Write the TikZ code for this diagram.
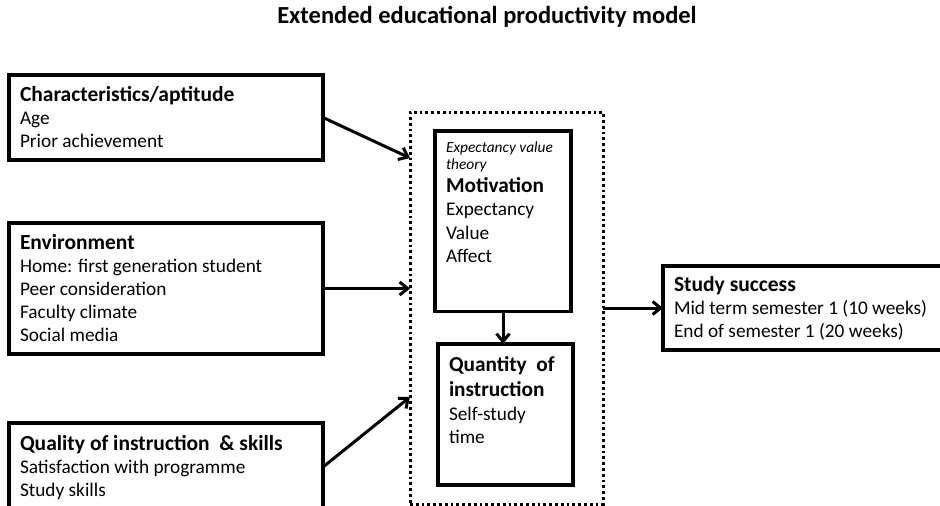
\documentclass[tikz,border=0pt]{standalone}
\usepackage{fontspec}
\setmainfont{Carlito}
\usetikzlibrary{arrows.meta}
\tikzset{
  box/.style={draw, line width=3.3pt, anchor=north west, outer sep=0pt,
    inner xsep=11pt, inner ysep=6pt, align=flush left,
    font=\fontsize{19.3}{23}\selectfont},
  group/.style={draw, dash pattern=on 2.8pt off 3pt, line width=3pt,
    anchor=north west, outer sep=0pt, inner sep=0pt},
  link/.style={-{Straight Barb[length=8pt,width=13pt]}, line width=3pt},
}
\newcommand{\hd}[1]{{\fontsize{21.5}{23}\selectfont\bfseries #1}}
\begin{document}
\begin{tikzpicture}[x=1pt,y=-1pt]
        \useasboundingbox (0,0) rectangle (940,506);
        % title
        \node (title) at (487,17) {\fontsize{24.5}{28}\selectfont\bfseries Extended educational productivity model};
        % factors on the left
        \node[box, text width=292pt, minimum height=85pt] (char) at (9,75)
          {\hd{Characteristics/aptitude}\\ Age\\ Prior achievement};
        \node[box, text width=292pt, minimum height=131pt] (env) at (9,223)
          {\hd{Environment}\\ Home: first generation student\\ Peer consideration\\ Faculty climate\\ Social media};
        \node[box, text width=292pt, minimum height=88pt] (qual) at (9,423)
          {\hd{Quality of instruction~ \&\ skills}\\ Satisfaction with programme\\ Study skills};
        % dotted frame with motivation and quantity
        \node[group, minimum width=193pt, minimum height=392pt] (med) at (410,112) {};
        \node[box, text width=114pt, inner ysep=11pt, text depth=148pt] (motiv) at (435,131)
          {{\fontsize{15.4}{17}\selectfont\itshape Expectancy value}\\[-6pt]
           {\fontsize{15.4}{17}\selectfont\itshape theory}\\
           {\fontsize{21.3}{23}\selectfont\bfseries Motivation}\\ Expectancy\\[1pt] Value\\ Affect};
        \node[box, text width=113pt, inner ysep=13pt, text depth=100pt] (quant) at (438,344)
          {{\fontsize{21.3}{23}\selectfont\bfseries Quantity~ of}\\[2pt]
           {\fontsize{21.3}{23}\selectfont\bfseries instruction}\\[1pt] Self-study\\ time};
        % outcome
        \node[box, text width=260pt, minimum height=84pt] (study) at (663,266)
          {\hd{Study success}\\ Mid term semester 1 (10 weeks)\\ End of semester 1 (20 weeks)};
        % arrows
        \draw[link] (char.east) -- ([yshift=150pt]med.west);
        \draw[link] (env.east) -- (env.east -| med.west);
        \draw[link] (qual.east) -- ([yshift=-89pt]med.west);
        \draw[link] (motiv.south) -- (motiv.south |- quant.north);
        \draw[link] (med.east) -- (study.west);
      \end{tikzpicture}
\end{document}
